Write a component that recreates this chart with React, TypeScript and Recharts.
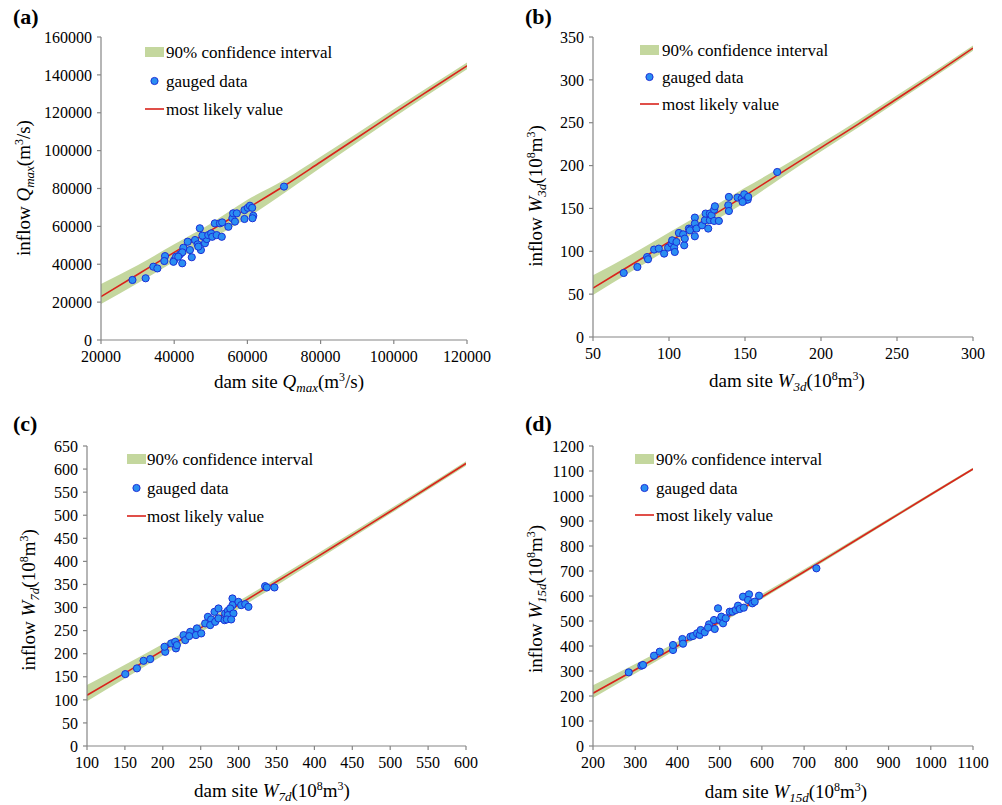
import { Area, ComposedChart, Line, Scatter, XAxis, YAxis } from 'recharts'

const FONT = '"Liberation Serif", "Times New Roman", "DejaVu Serif", serif'
const BAND = '#c4d79e'
const RED = '#d9231c'
const DOT_FILL = '#2a8ef2'
const DOT_EDGE = '#1c2fd6'
const AXIS = '#858585'

// (a) Qmax
const qGrid = [20000, 30000, 40000, 50000, 60000, 70000, 80000, 90000, 100000, 110000, 120000]
const qMid = [22900, 34600, 46300, 57900, 69500, 81300, 94000, 106800, 119700, 132300, 144800]
const qLow = [19000, 30000, 41500, 53000, 64500, 77500, 91000, 104300, 117500, 130300, 143000]
const qHigh = [29600, 39500, 50500, 61500, 74000, 84500, 96800, 109200, 121800, 134200, 146500]
const qGauged = [
  [28600, 31700], [32200, 32600], [34300, 38700], [35400, 37800], [37500, 44300], [37300, 41700],
  [40000, 42200], [40500, 44000], [39800, 41300], [42200, 40500], [41600, 45200], [42500, 48700],
  [43700, 51900], [44800, 43700], [44300, 47500], [45700, 52800], [46400, 50500], [47000, 59000],
  [47300, 47500], [46600, 49300], [48000, 54500], [48400, 51100], [48900, 53300], [47700, 55100],
  [49300, 55400], [50100, 56300], [51100, 61600], [50400, 54500], [51600, 55400], [53000, 54500],
  [52500, 61600], [53100, 62100], [54800, 59800], [55900, 64300], [56100, 66900], [57100, 66900],
  [56600, 62500], [59200, 63900], [59200, 68600], [60100, 69800], [60700, 70900], [61600, 65600],
  [61400, 64300], [61300, 69800], [70000, 81000], [42200, 46300], [41100, 44000],
]
const qXTicks = [20000, 40000, 60000, 80000, 100000, 120000]
const qYTicks = [0, 20000, 40000, 60000, 80000, 100000, 120000, 140000, 160000]

// (b) W3d
const w3Grid = [50, 75, 100, 125, 150, 175, 200, 225, 250, 275, 300]
const w3Mid = [57, 84, 111, 138, 165, 193, 221, 249, 278, 307, 337]
const w3Low = [49, 76, 103, 130.5, 157, 187, 216.5, 245, 274.5, 304, 334]
const w3High = [72, 96, 122, 147.5, 174, 199.5, 226, 253.5, 282, 310.5, 340]
const w3Gauged = [
  [70.2, 74.7], [79.2, 81.7], [85.6, 93.3], [86.2, 90.7], [90.2, 102], [93.3, 103.1], [96.8, 97.3],
  [99.4, 104.3], [101.7, 109], [102.1, 112.8], [103.4, 104.3], [103.8, 99.2], [104.9, 110.9],
  [106.5, 121.4], [110, 107], [109.3, 119.8], [113.1, 126.5], [114.8, 126.5], [113.7, 124.5],
  [117, 139.3], [117, 132.3], [117, 117.5], [118.1, 126.5], [121.8, 130.3], [123.6, 136.2],
  [124.1, 144], [126.9, 144], [126.9, 136.2], [125.8, 126.5], [128, 142], [129.7, 148.6],
  [130.2, 152.5], [129.7, 135.4], [132.8, 135.4], [139.4, 163.4], [139, 153.7], [139.4, 147],
  [145.1, 162.7], [147.8, 161.5], [149.5, 166.5], [150, 159.5], [151.8, 160.3], [152.1, 163.4],
  [148.4, 157.5], [171.2, 192.5], [110.4, 114.8],
]
const w3XTicks = [50, 100, 150, 200, 250, 300]
const w3YTicks = [0, 50, 100, 150, 200, 250, 300, 350]

// (c) W7d
const w7Grid = [100, 150, 200, 250, 300, 350, 400, 450, 500, 550, 600]
const w7Mid = [110, 158, 207, 256, 306, 356, 406, 457, 508, 560, 612]
const w7Low = [97, 146, 196, 246, 297, 348, 399, 451, 503, 555, 607]
const w7High = [132, 176, 221, 266, 314, 363, 413, 463, 514, 565, 617]
const w7Gauged = [
  [150.5, 155.8], [165.9, 168.2], [174.6, 184.6], [183.4, 188.3], [203.2, 204.1], [202.3, 215],
  [211.1, 222.3], [216.4, 225.8], [217.3, 211.5], [218.6, 218.6], [227.3, 240.3], [229.6, 229.4],
  [236.2, 247.4], [234.8, 238.1], [245, 254.8], [243.7, 240.3], [250.7, 243.9], [255.9, 265.6],
  [259.5, 279.9], [263.8, 274.2], [262.5, 261.9], [268.2, 290.7], [273.5, 298], [269.1, 269],
  [273.5, 276.4], [282.3, 287.2], [281.4, 272.7], [285.8, 292.9], [288.9, 287.2], [291.9, 319.7],
  [291.9, 305.2], [288.9, 298], [285.8, 283.5], [299.8, 312.3], [303.4, 305.2], [308.7, 307.4],
  [313, 301.5], [293.2, 287.2], [284.5, 274.2], [335, 346.3], [347.3, 343.5], [337.2, 343.5],
  [290.2, 274.2],
]
const w7XTicks = [100, 150, 200, 250, 300, 350, 400, 450, 500, 550, 600]
const w7YTicks = [0, 50, 100, 150, 200, 250, 300, 350, 400, 450, 500, 550, 600, 650]

// (d) W15d
const w15Grid = [200, 300, 400, 500, 600, 700, 800, 900, 1000, 1100]
const w15Mid = [211, 305, 400, 497, 596, 697, 800, 903, 1006, 1108]
const w15Low = [192, 290, 388, 487, 588, 690, 793, 897, 1000, 1103]
const w15High = [243, 328, 418, 512, 608, 707, 808, 910, 1012, 1113]
const w15Gauged = [
  [284.6, 294.7], [314.6, 321.3], [318.4, 324], [344.5, 361.3], [358, 377.3], [389.5, 384],
  [389.5, 404], [411.7, 428], [413.2, 409.3], [430.7, 437.3], [436.9, 440], [446.4, 450.7],
  [452.7, 444], [455.1, 464], [464.6, 454.7], [474.8, 486.7], [488.3, 468], [486.6, 504],
  [496.1, 550.7], [500.1, 504], [504.1, 517.3], [508, 490.7], [514.3, 510.7], [523.8, 537.3],
  [530.2, 537.3], [538, 544], [543.5, 561.3], [547.5, 548], [555.3, 597.3], [557, 553.3],
  [569.5, 606.7], [567.1, 584], [577.5, 570.7], [583, 577.3], [593.2, 601.3], [729.1, 710.7],
  [472.4, 473.3],
]
const w15XTicks = [200, 300, 400, 500, 600, 700, 800, 900, 1000, 1100]
const w15YTicks = [0, 100, 200, 300, 400, 500, 600, 700, 800, 900, 1000, 1100, 1200]

const W = 500
const H = 405
const Y_AXIS_W = 60
const X_AXIS_H = 30

function VarTitle({ prefix, sym, sub, flow }: { prefix: string; sym: string; sub: string; flow: boolean }) {
  return (
    <>
      <tspan>{prefix}</tspan>
      <tspan fontStyle="italic">{sym}</tspan>
      <tspan fontStyle="italic" fontSize={13} dy={4}>{sub}</tspan>
      {flow ? (
        <>
          <tspan dy={-4}>(m</tspan>
          <tspan fontSize={12} dy={-7}>3</tspan>
          <tspan dy={7}>/s)</tspan>
        </>
      ) : (
        <>
          <tspan dy={-4}>(10</tspan>
          <tspan fontSize={12} dy={-7}>8</tspan>
          <tspan dy={7}>m</tspan>
          <tspan fontSize={12} dy={-7}>3</tspan>
          <tspan dy={7}>)</tspan>
        </>
      )}
    </>
  )
}

const dot = (props: any) => (
  <circle cx={props.cx} cy={props.cy} r={3.6} fill={DOT_FILL} stroke={DOT_EDGE} strokeWidth={1} />
)

interface PanelCfg {
  left: number
  top: number
  label: string
  labelY: number
  plot: { left: number; right: number; top: number; bottom: number }
  grid: number[]
  mid: number[]
  low: number[]
  high: number[]
  gauged: number[][]
  xTicks: number[]
  yTicks: number[]
  sym: string
  sub: string
  flow: boolean
  legend: { x: number; rows: number[]; textX: number }
  yTitle: { x: number; y: number }
  xTitle: { x: number; y: number }
}

function Panel({ cfg }: { cfg: PanelCfg }) {
  const curve = cfg.grid.map((x, i) => ({ x, band: [cfg.low[i], cfg.high[i]], mid: cfg.mid[i] }))
  const pts = cfg.gauged.map(([x, y]) => ({ x, y }))
  const xDomain = [cfg.xTicks[0], cfg.xTicks[cfg.xTicks.length - 1]]
  const yDomain = [cfg.yTicks[0], cfg.yTicks[cfg.yTicks.length - 1]]
  const tick = { fill: '#000', fontSize: 16, fontFamily: FONT }
  const lg = cfg.legend
  return (
    <div style={{ position: 'absolute', left: cfg.left, top: cfg.top, width: W, height: H, fontFamily: FONT }}>
      <ComposedChart
        width={W}
        height={H}
        data={curve}
        margin={{
          top: cfg.plot.top,
          right: W - cfg.plot.right,
          left: cfg.plot.left - Y_AXIS_W,
          bottom: H - cfg.plot.bottom - X_AXIS_H,
        }}
      >
        <XAxis
          type="number"
          dataKey="x"
          domain={xDomain}
          ticks={cfg.xTicks}
          interval={0}
          allowDataOverflow
          height={X_AXIS_H}
          tickSize={4}
          tickMargin={7}
          stroke={AXIS}
          strokeWidth={1.2}
          tick={tick}
        />
        <YAxis
          type="number"
          domain={yDomain}
          ticks={cfg.yTicks}
          interval={0}
          allowDataOverflow
          width={Y_AXIS_W}
          tickSize={4}
          tickMargin={5}
          stroke={AXIS}
          strokeWidth={1.2}
          tick={tick}
        />
        <Area type="monotone" dataKey="band" stroke="none" fill={BAND} fillOpacity={1} isAnimationActive={false} />
        <Line type="monotone" dataKey="mid" stroke={RED} strokeWidth={1.6} dot={false} isAnimationActive={false} />
        <Scatter data={pts} dataKey="y" shape={dot} isAnimationActive={false} />
      </ComposedChart>
      <svg
        width={W}
        height={H}
        style={{ position: 'absolute', left: 0, top: 0, pointerEvents: 'none', fontFamily: FONT }}
      >
        <text x={cfg.left === 0 ? 13 : 25} y={cfg.labelY} fontSize={22} fontWeight="bold">{cfg.label}</text>
        <rect x={lg.x} y={lg.rows[0] - 5} width={19} height={10} fill={BAND} />
        <text x={lg.textX} y={lg.rows[0] + 6} fontSize={17}>90% confidence interval</text>
        <circle cx={lg.x + 9.5} cy={lg.rows[1]} r={3.6} fill={DOT_FILL} stroke={DOT_EDGE} strokeWidth={1} />
        <text x={lg.textX} y={lg.rows[1] + 6} fontSize={17}>gauged data</text>
        <line x1={lg.x} x2={lg.x + 19} y1={lg.rows[2]} y2={lg.rows[2]} stroke={RED} strokeWidth={1.6} />
        <text x={lg.textX} y={lg.rows[2] + 6} fontSize={17}>most likely value</text>
        <text
          transform={`translate(${cfg.yTitle.x}, ${cfg.yTitle.y}) rotate(-90)`}
          textAnchor="middle"
          fontSize={19}
        >
          <VarTitle prefix="inflow " sym={cfg.sym} sub={cfg.sub} flow={cfg.flow} />
        </text>
        <text x={cfg.xTitle.x} y={cfg.xTitle.y} textAnchor="middle" fontSize={19}>
          <VarTitle prefix="dam site " sym={cfg.sym} sub={cfg.sub} flow={cfg.flow} />
        </text>
      </svg>
    </div>
  )
}

const panels: PanelCfg[] = [
  {
    left: 0, top: 0, label: '(a)', labelY: 24,
    plot: { left: 101, right: 467, top: 37, bottom: 340 },
    grid: qGrid, mid: qMid, low: qLow, high: qHigh, gauged: qGauged,
    xTicks: qXTicks, yTicks: qYTicks, sym: 'Q', sub: 'max', flow: true,
    legend: { x: 145, rows: [52, 81, 109], textX: 166 },
    yTitle: { x: 30, y: 188 }, xTitle: { x: 289, y: 388 },
  },
  {
    left: 500, top: 0, label: '(b)', labelY: 24,
    plot: { left: 93, right: 473, top: 37, bottom: 337 },
    grid: w3Grid, mid: w3Mid, low: w3Low, high: w3High, gauged: w3Gauged,
    xTicks: w3XTicks, yTicks: w3YTicks, sym: 'W', sub: '3d', flow: false,
    legend: { x: 140, rows: [50, 77, 104], textX: 162 },
    yTitle: { x: 42, y: 196 }, xTitle: { x: 287, y: 387 },
  },
  {
    left: 0, top: 400, label: '(c)', labelY: 31,
    plot: { left: 87, right: 466, top: 46, bottom: 346 },
    grid: w7Grid, mid: w7Mid, low: w7Low, high: w7High, gauged: w7Gauged,
    xTicks: w7XTicks, yTicks: w7YTicks, sym: 'W', sub: '7d', flow: false,
    legend: { x: 127, rows: [59, 88, 116], textX: 147 },
    yTitle: { x: 35, y: 200 }, xTitle: { x: 272, y: 397 },
  },
  {
    left: 500, top: 400, label: '(d)', labelY: 31,
    plot: { left: 93, right: 473, top: 46, bottom: 346 },
    grid: w15Grid, mid: w15Mid, low: w15Low, high: w15High, gauged: w15Gauged,
    xTicks: w15XTicks, yTicks: w15YTicks, sym: 'W', sub: '15d', flow: false,
    legend: { x: 135, rows: [59, 88, 115], textX: 156 },
    yTitle: { x: 42, y: 199 }, xTitle: { x: 286, y: 398 },
  },
]

export default function App() {
  return (
    <div style={{ position: 'absolute', left: 0, top: 0, width: 1002, height: 805, background: '#fff', overflow: 'hidden' }}>
      {panels.map((p) => (
        <Panel key={p.label} cfg={p} />
      ))}
    </div>
  )
}
